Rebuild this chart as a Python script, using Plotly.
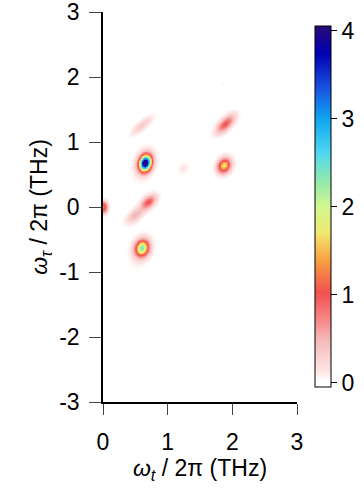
import numpy as np
import plotly.graph_objects as go

# Peak list (THz units)
peak_x = [0.65, 0.60, 1.87, 1.89, 0.70, 0.50, 0.60, 1.24, 0.00, 1.85, 0.63, 0.58]
peak_y = [0.68, -0.63, 0.64, 1.28, 0.08, -0.12, 1.26, 0.60, 0.00, 1.90, 0.66, -0.66]
peak_amp = [4.0, 2.2, 1.7, 1.0, 1.0, 0.5, 0.35, 0.15, 1.3, 0.05, 0.25, 0.2]
peak_wa = [0.085, 0.085, 0.080, 0.12, 0.09, 0.11, 0.13, 0.06, 0.06, 0.04, 0.16, 0.16]
peak_wb = [0.062, 0.068, 0.065, 0.055, 0.055, 0.055, 0.045, 0.045, 0.045, 0.03, 0.10, 0.10]
peak_angle = [75, 75, 60, 45, 40, 40, 40, 45, 90, 90, 70, 70]

x_ticks = [0, 1, 2, 3]
x_labels = ["0", "1", "2", "3"]
y_ticks = [-3, -2, -1, 0, 1, 2, 3]
y_labels = ["-3", "-2", "-1", "0", "1", "2", "3"]
cbar_ticks = [0, 1, 2, 3, 4]
cbar_labels = ["0", "1", "2", "3", "4"]

xs = np.linspace(0, 3, 301)
ys = np.linspace(-3, 3, 601)
X, Y = np.meshgrid(xs, ys)
Z = np.zeros_like(X)
for x0, y0, a, wa, wb, ang in zip(peak_x, peak_y, peak_amp, peak_wa, peak_wb, peak_angle):
    t = np.deg2rad(ang)
    dx, dy = X - x0, Y - y0
    u = dx * np.cos(t) + dy * np.sin(t)
    v = -dx * np.sin(t) + dy * np.cos(t)
    Z += a * np.exp(-u**2 / (2 * wa**2) - v**2 / (2 * wb**2))

zmin, zmax = -0.05, 4.05
stops = [(-0.05, "#ffffff"), (0.02, "#ffffff"), (0.12, "#ffe6e6"), (0.48, "#f4baba"), (0.71, "#f88888"),
         (1.02, "#f05050"), (1.39, "#f8a040"), (1.7, "#f0e870"), (2.0, "#d0f890"),
         (2.3, "#90e8b0"), (2.61, "#50d8f0"), (2.98, "#10a8f0"), (3.36, "#1850e0"),
         (3.74, "#0000b0"), (4.05, "#2a0a7a")]
colorscale = [[(z - zmin) / (zmax - zmin), c] for z, c in stops]

FONT = "Liberation Sans"
FS = 23
tickfont = dict(family=FONT, size=FS, color="black")

fig = go.Figure(go.Heatmap(
    x=xs, y=ys, z=Z, zmin=zmin, zmax=zmax, colorscale=colorscale, zsmooth="best",
    colorbar=dict(
        x=1.093, xanchor="left", y=0.501, yanchor="middle", len=0.926, lenmode="fraction",
        thickness=16, xpad=0, ypad=0, outlinewidth=1, outlinecolor="black",
        tickvals=cbar_ticks, ticktext=cbar_labels, ticks="outside", ticklen=6, tickcolor="black",
        tickfont=tickfont, ticklabeloverflow="allow",
    ),
))

fig.update_layout(
    width=364, height=489,
    margin=dict(l=103, r=67, t=12, b=87, autoexpand=False),
    paper_bgcolor="white", plot_bgcolor="white",
    font=dict(family=FONT, size=FS, color="black"),
)
fig.update_xaxes(
    range=[0, 3], tickvals=x_ticks, ticktext=x_labels, ticks="outside", ticklen=11, tickwidth=1.3,
    tickfont=tickfont, ticklabelstandoff=8, ticklabeloverflow="allow",
    showline=True, linecolor="black", linewidth=1.5, showgrid=False, zeroline=False,
    title=dict(text="<i>ω</i><sub><i>t</i></sub> / 2π (THz)", font=dict(family=FONT, size=FS), standoff=6),
)
fig.update_yaxes(
    range=[-3, 3], tickvals=y_ticks, ticktext=y_labels, ticks="outside", ticklen=12, tickwidth=1.3,
    tickfont=tickfont, ticklabelstandoff=5, ticklabeloverflow="allow",
    showline=True, linecolor="black", linewidth=1.5, showgrid=False, zeroline=False,
    title=dict(text="<i>ω</i><sub><i>τ</i></sub> / 2π (THz)", font=dict(family=FONT, size=FS), standoff=5),
)

fig.write_html("out.html")
